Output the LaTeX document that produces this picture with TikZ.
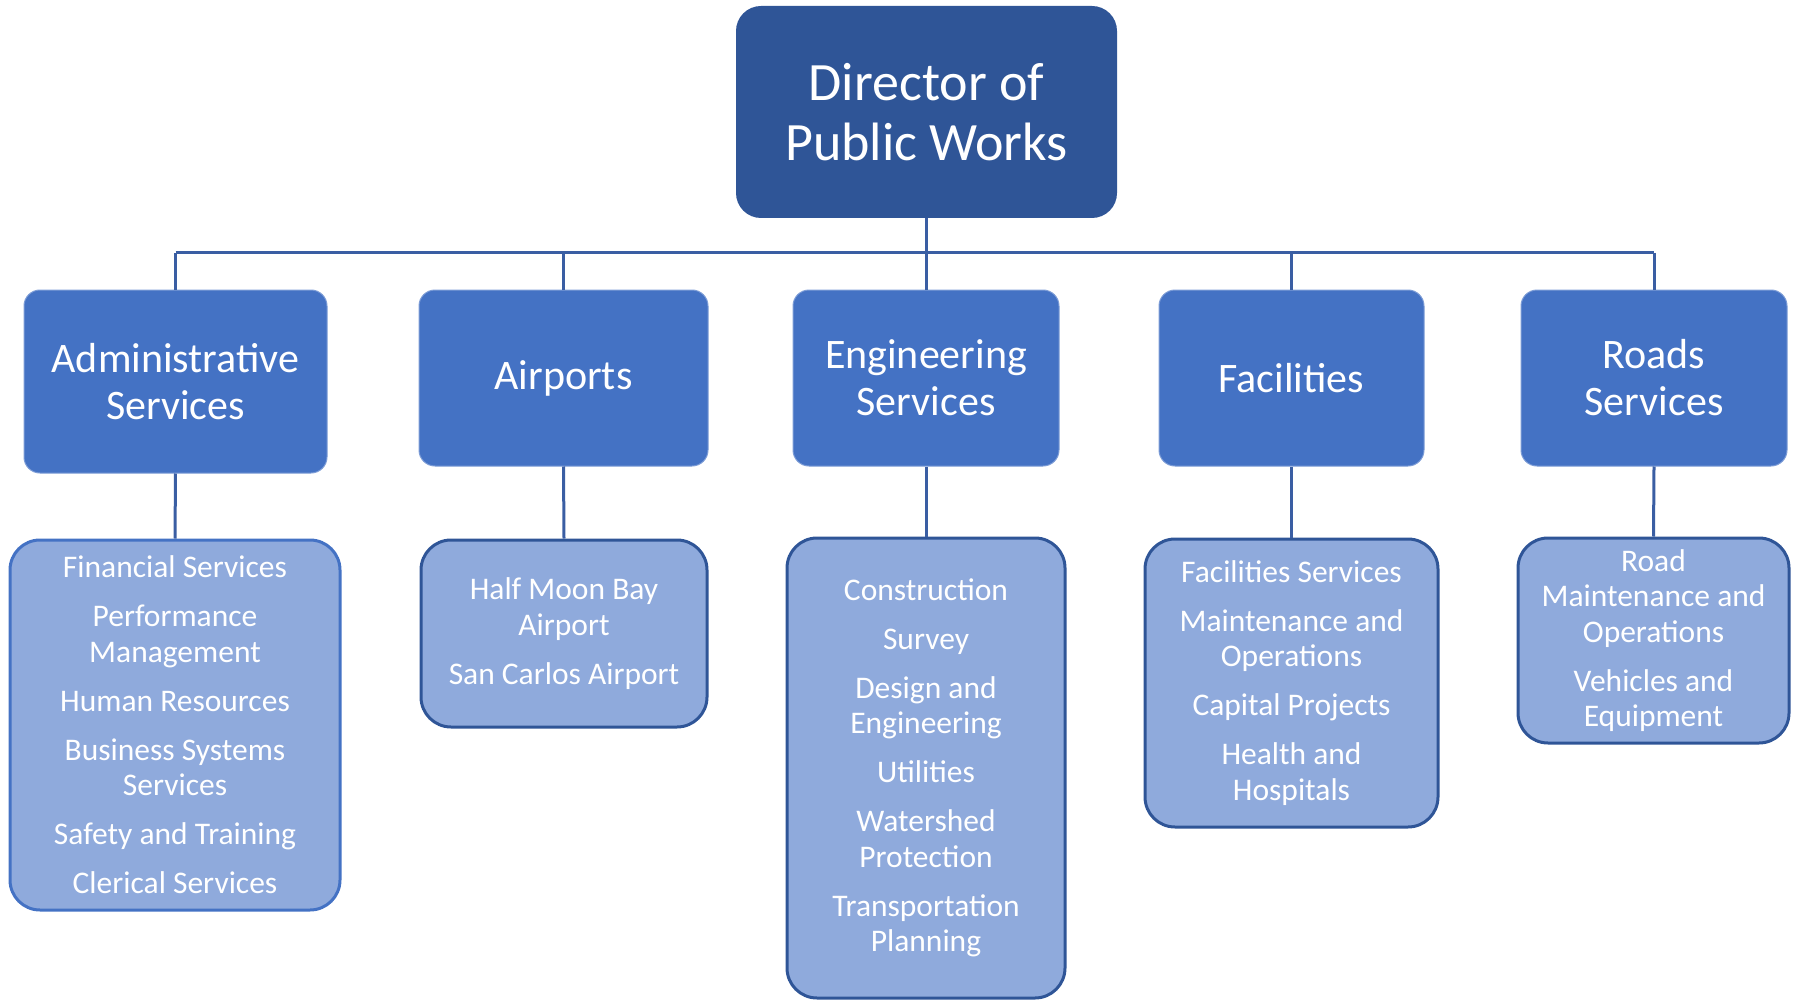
\documentclass[tikz,border=0pt]{standalone}
\usepackage{fontspec}
\setmainfont{Carlito}
\usetikzlibrary{positioning}

\definecolor{topblue}{HTML}{2F5597}
\definecolor{midblue}{HTML}{4472C4}
\definecolor{lowblue}{HTML}{8FAADC}
\definecolor{lineblue}{HTML}{3A5EA3}

\tikzset{
    head/.style={fill=topblue, text=white, rounded corners=25pt, inner sep=0pt,
        align=center, font=\fontsize{54}{60}\selectfont},
    unit/.style={fill=midblue, draw=midblue!70!white, line width=1pt, text=white,
        rounded corners=16pt, inner sep=0pt, align=center,
        minimum height=176pt, font=\fontsize{42}{47}\selectfont},
    sub/.style={fill=lowblue, draw=topblue, line width=3pt, text=white,
        rounded corners=30pt, inner sep=0pt, align=center,
        font=\fontsize{31.5}{35.5}\selectfont},
    link/.style={draw=lineblue, line width=3pt}
}

\begin{document}
\begin{tikzpicture}[x=1pt, y=-1pt]
    \useasboundingbox (0,0) rectangle (1795,1000);

    % director
    \node[head, minimum width=381pt, minimum height=212pt] (dir) at (926.5,112)
        {Director of\\Public Works};

    % divisions
    \node[unit, minimum width=303pt, minimum height=183pt] (adm) at (175.5,381.5)
        {Administrative\\Services};
    \node[unit, minimum width=289pt] (air) at (563.5,378) {Airports};
    \node[unit, minimum width=266pt] (eng) at (926,378) {Engineering\\Services};
    \node[unit, minimum width=265pt] (fac) at (1291.5,378) {Facilities};
    \node[unit, minimum width=266pt] (rds) at (1654,378) {Roads\\Services};

    % sections
    \node[sub, draw=midblue, minimum width=330pt, minimum height=370pt] (adm-sub) at (175,725)
        {Financial Services\\[13.5pt]
         Performance\\Management\\[13.5pt]
         Human Resources\\[13.5pt]
         Business Systems\\Services\\[13.5pt]
         Safety and Training\\[13.5pt]
         Clerical Services};
    \node[sub, minimum width=286pt, minimum height=187pt] (air-sub) at (564,633.5)
        {Half Moon Bay\\Airport\\[13.5pt]
         San Carlos Airport};
    \node[sub, minimum width=278pt, minimum height=460pt] (eng-sub) at (926,768)
        {Construction\\[13.5pt]
         Survey\\[13.5pt]
         Design and\\Engineering\\[13.5pt]
         Utilities\\[13.5pt]
         Watershed\\Protection\\[13.5pt]
         Transportation\\Planning};
    \node[sub, minimum width=293pt, minimum height=288pt] (fac-sub) at (1291.5,683)
        {Facilities Services\\[13.5pt]
         Maintenance and\\Operations\\[13.5pt]
         Capital Projects\\[13.5pt]
         Health and\\Hospitals};
    \node[sub, minimum width=271pt, minimum height=205pt] (rds-sub) at (1653.5,640.5)
        {Road\\Maintenance and\\Operations\\[13.5pt]
         Vehicles and\\Equipment};

    % connectors
    \coordinate (bus-l) at (175.5,253);
    \coordinate (bus-r) at (1654,253);
    \draw[link] (bus-l) -- (bus-r);
    \draw[link] (dir.south) -- (dir.south |- bus-l);
    \foreach \n in {adm, air, eng, fac, rds} {
        \draw[link] (\n.north |- bus-l) -- (\n.north);
        \draw[link] (\n.south) -- (\n-sub.north);
    }
\end{tikzpicture}
\end{document}
